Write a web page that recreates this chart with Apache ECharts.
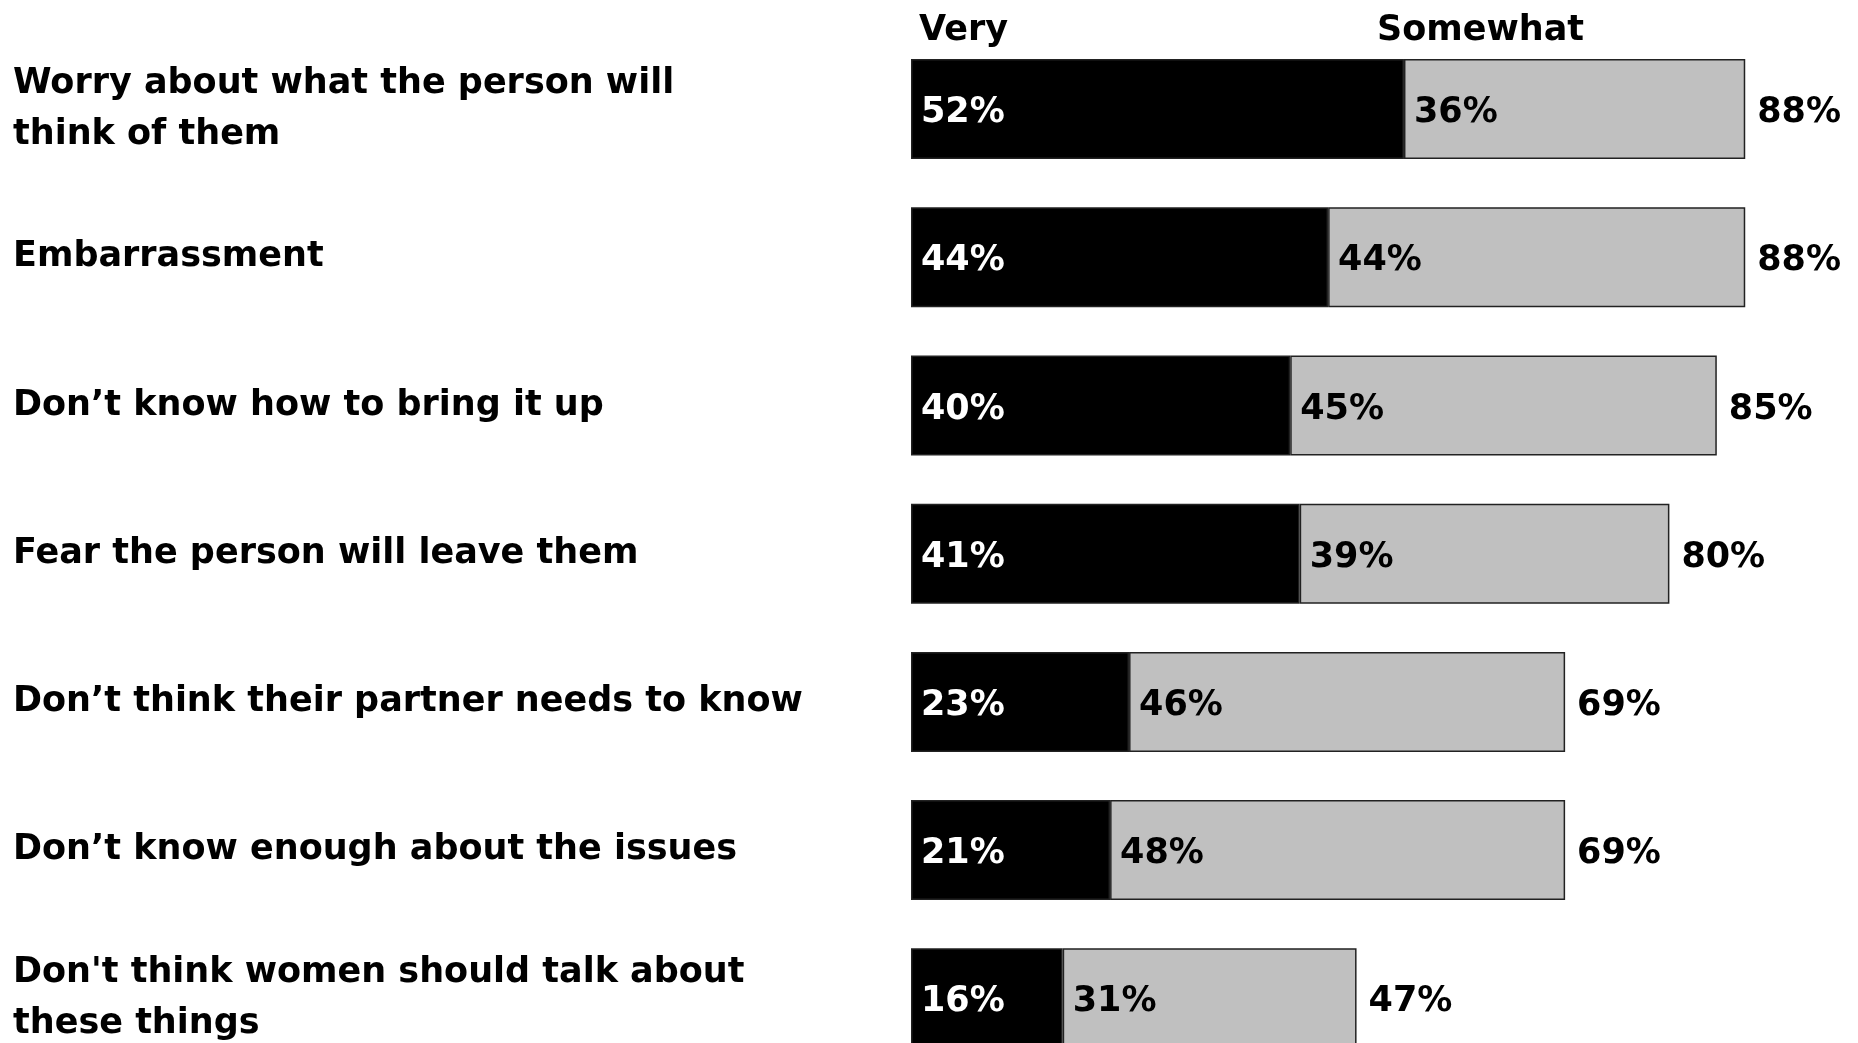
<!DOCTYPE html>
<html><head><meta charset="utf-8">
<script src="https://cdn.jsdelivr.net/npm/echarts@6/dist/echarts.min.js"></script>
<style>html,body{margin:0;padding:0;background:#fff}#c{width:1858px;height:1043px}</style>
</head><body><div id="c"></div>
<script>
const categories = [
  'Worry about what the person will\nthink of them',
  'Embarrassment',
  'Don\u2019t know how to bring it up',
  'Fear the person will leave them',
  'Don\u2019t think their partner needs to know',
  'Don\u2019t know enough about the issues',
  "Don't think women should talk about\nthese things"
];
const very = [52, 44, 40, 41, 23, 21, 16];
const somewhat = [36, 44, 45, 39, 46, 48, 31];
const totals = [88, 88, 85, 80, 69, 69, 47];
const headers = ['Very', 'Somewhat'];

const FONT = 'DejaVu Sans';
const txt = { fontFamily: FONT, fontWeight: 'bold', fontSize: 35 };
const chart = echarts.init(document.getElementById('c'), null, { renderer: 'canvas' });
chart.setOption({
  animation: false,
  backgroundColor: '#ffffff',
  title: [
    { text: headers[0], left: 914, top: 8, textStyle: Object.assign({ color: '#000' }, txt) },
    { text: headers[1], left: 1372, top: 8, textStyle: Object.assign({ color: '#000' }, txt) }
  ],
  grid: { left: 911, top: 35, width: 948, height: 1037.4, containLabel: false, outerBoundsMode: 'none' },
  xAxis: { type: 'value', min: 0, max: 100, show: false },
  yAxis: {
    type: 'category', data: categories, inverse: true,
    axisLine: { show: false }, axisTick: { show: false }, splitLine: { show: false },
    axisLabel: Object.assign({ align: 'left', margin: 898, color: '#000', lineHeight: 51, padding: [6, 0, 0, 0] }, txt)
  },
  series: [
    {
      name: headers[0], type: 'bar', stack: 'a', data: very, barWidth: 100,
      itemStyle: { color: '#000000', borderColor: '#222', borderWidth: 1.5 },
      label: Object.assign({ show: true, position: 'insideLeft', distance: 10, offset: [0, 4], color: '#fff', formatter: '{c}%' }, txt)
    },
    {
      name: headers[1], type: 'bar', stack: 'a', data: somewhat, barWidth: 100,
      itemStyle: { color: '#C0C0C0', borderColor: '#222', borderWidth: 1.5 },
      label: Object.assign({ show: true, position: 'insideLeft', distance: 10, offset: [0, 4], color: '#000', formatter: '{c}%' }, txt)
    },
    {
      name: 'Total', type: 'scatter', symbolSize: 0, silent: true,
      itemStyle: { opacity: 1, color: '#000' },
      data: totals.map((v, i) => [v, categories[i]]),
      label: Object.assign({ show: true, position: 'right', distance: 12, offset: [0, 4], color: '#000',
        formatter: p => p.value[0] + '%' }, txt)
    }
  ]
});
</script></body></html>
